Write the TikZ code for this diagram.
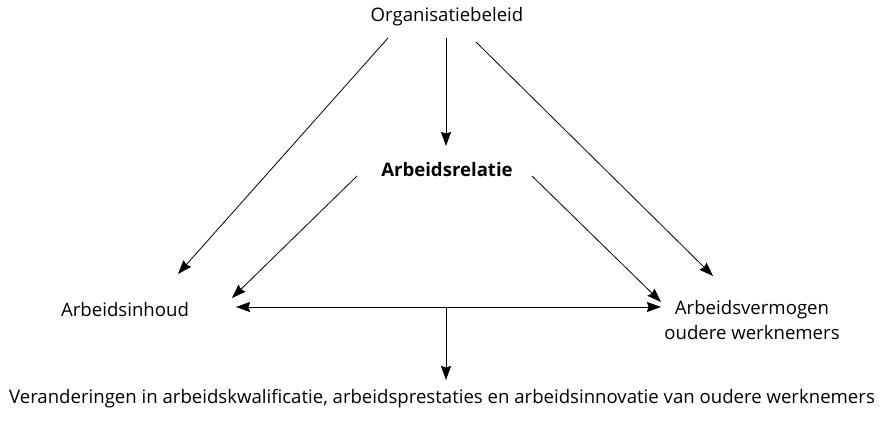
\documentclass[tikz,border=0pt]{standalone}
\usepackage{fontspec}
\setmainfont{Open Sans}
\usetikzlibrary{arrows.meta}
\begin{document}
\begin{tikzpicture}[x=1pt,y=-1pt,
  lbl/.style={inner sep=0pt,font=\fontsize{18.6}{22}\selectfont},
  tip/.tip={Stealth[length=14pt,width=10pt,inset=1.5pt]},
  arr/.style={line width=0.8pt,-tip},
  darr/.style={line width=0.8pt,tip-tip}]
\useasboundingbox (0,0) rectangle (884,425);
\node[lbl] (org) at (447,17) {Organisatiebeleid};
\node[lbl,font=\fontsize{18.6}{22}\selectfont\bfseries] (rel) at (447,170) {Arbeidsrelatie};
\node[lbl] (inh) at (125,310) {Arbeidsinhoud};
\node[lbl,align=center,font=\fontsize{18.6}{25}\selectfont] (ver) at (752,320) {Arbeidsvermogen\\oudere werknemers};
\node[lbl] (out) at (442,399) {Veranderingen in arbeidskwalificatie, arbeidsprestaties en arbeidsinnovatie van oudere werknemers};
\coordinate (o1) at (388,38);
\coordinate (o2) at (446,38);
\coordinate (o3) at (476,42);
\coordinate (i1) at (178,274);
\coordinate (r0) at (446,146);
\coordinate (v1) at (713,276);
\coordinate (r1) at (357,176);
\coordinate (r2) at (532,176);
\coordinate (i2) at (232,298);
\coordinate (v2) at (661,302);
\coordinate (hl) at (236,307);
\coordinate (hr) at (661,307);
\coordinate (hm) at (446,307);
\coordinate (dn) at (446,380);
\draw[arr] (o1) -- (i1);
\draw[arr] (o2) -- (r0);
\draw[arr] (o3) -- (v1);
\draw[arr] (r1) -- (i2);
\draw[arr] (r2) -- (v2);
\draw[darr] (hl) -- (hr);
\draw[arr] (hm) -- (dn);
\end{tikzpicture}
\end{document}
